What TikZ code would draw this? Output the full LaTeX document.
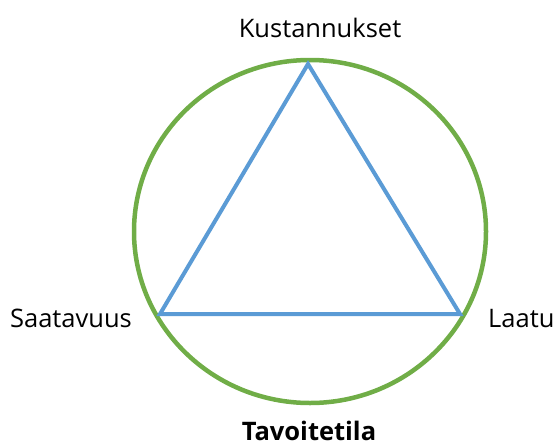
\documentclass[tikz,border=0pt]{standalone}
\usepackage{fontspec}
\setmainfont{Open Sans}
\usetikzlibrary{positioning,calc}
\definecolor{goalgreen}{RGB}{112,173,71}
\definecolor{goalblue}{RGB}{91,155,213}

\begin{document}
\begin{tikzpicture}[x=1pt,y=-1pt,font=\fontsize{25.5}{30}\selectfont,
        lbl/.style={anchor=base,inner sep=0pt}]
            \useasboundingbox (0,0) rectangle (553,447);
            % ympyra
            \draw[goalgreen,line width=4.5pt] (310,231.5) ellipse [x radius=176,y radius=171.5];
            % kolmio
            \coordinate (top) at (308,64);
            \coordinate (left) at (160,314);
            \coordinate (right) at (460,314);
            \draw[goalblue,line width=4pt,line join=miter] (top) -- (left) -- (right) -- cycle;
            % tekstit
            \node[lbl] (kust) at (320,37) {Kustannukset};
            \node[lbl] (saat) at (71,327) {Saatavuus};
            \node[lbl,anchor=base west] (laatu) at (488,327) {Laatu};
            \node[lbl] (tavo) at (309,440) {\bfseries Tavoitetila};
        \end{tikzpicture}
\end{document}
